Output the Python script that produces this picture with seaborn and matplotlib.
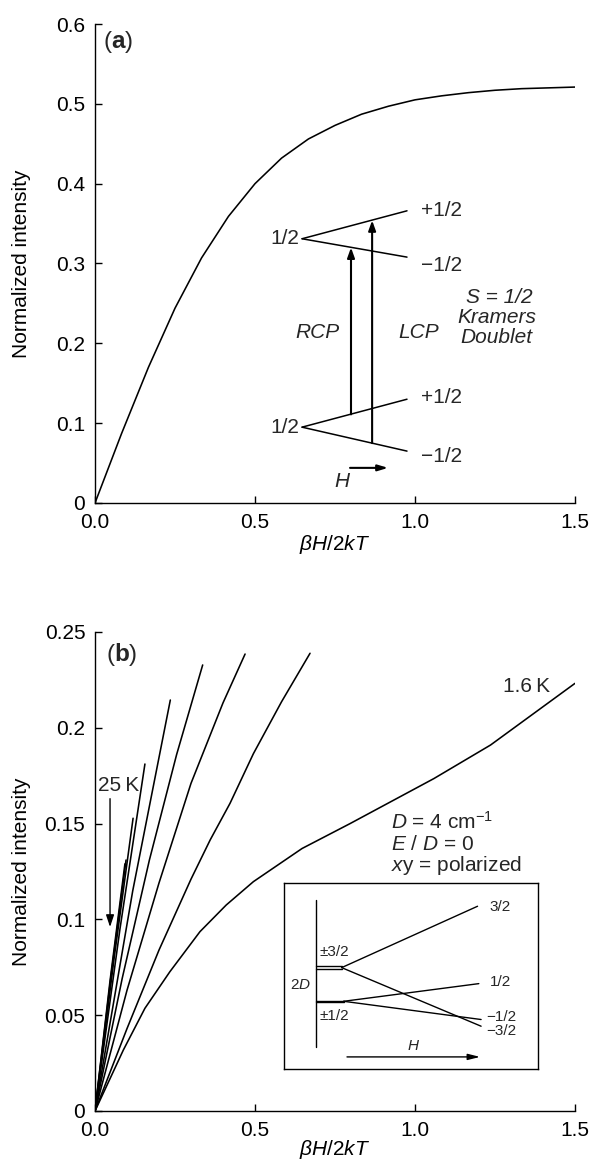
import numpy as np
import pandas as pd
import matplotlib
matplotlib.use("Agg")
import matplotlib.pyplot as plt
import seaborn as sns

# ---------------- data ----------------
# panel (a): S = 1/2 Kramers doublet saturation curve
a_x = [0.0, 0.083, 0.167, 0.25, 0.333, 0.417, 0.5, 0.583, 0.667, 0.75, 0.833,
       0.917, 1.0, 1.083, 1.167, 1.25, 1.333, 1.417, 1.5]
a_y = [0.0, 0.087, 0.170, 0.244, 0.307, 0.359, 0.400, 0.432, 0.456, 0.473, 0.487,
       0.497, 0.505, 0.510, 0.514, 0.517, 0.519, 0.520, 0.521]

# panel (b): family of curves (1.6 K ... 25 K)
b_names = ["1.6 K", "T2", "T3", "T4", "T5", "T6", "T7", "T8", "25 K"]
b_x = [
    [0.0, 0.0885, 0.156, 0.234, 0.328, 0.41, 0.495, 0.647, 0.797, 1.059, 1.236, 1.5],
    [0.0, 0.1, 0.2, 0.3, 0.36, 0.422, 0.495, 0.583, 0.672],
    [0.0, 0.1, 0.2, 0.3, 0.4, 0.469],
    [0.0, 0.085, 0.17, 0.255, 0.3365],
    [0.0, 0.118, 0.2354],
    [0.0, 0.078, 0.156],
    [0.0, 0.06, 0.119],
    [0.0, 0.049, 0.097],
    [0.0, 0.047, 0.0935],
]
b_y = [
    [0.0, 0.0318, 0.0536, 0.0727, 0.0936, 0.1075, 0.1197, 0.137, 0.150, 0.1735, 0.191, 0.2232],
    [0.0, 0.043, 0.084, 0.121, 0.1415, 0.1606, 0.1865, 0.2136, 0.2389],
    [0.0, 0.063, 0.119, 0.171, 0.213, 0.2385],
    [0.0, 0.0692, 0.131, 0.186, 0.2328],
    [0.0, 0.115, 0.2145],
    [0.0, 0.095, 0.1811],
    [0.0, 0.080, 0.1528],
    [0.0, 0.069, 0.131],
    [0.0, 0.068, 0.129],
]

a_yticks = [0, 0.1, 0.2, 0.3, 0.4, 0.5, 0.6]
a_yticklabels = ["0", "0.1", "0.2", "0.3", "0.4", "0.5", "0.6"]
b_yticks = [0, 0.05, 0.1, 0.15, 0.2, 0.25]
b_yticklabels = ["0", "0.05", "0.1", "0.15", "0.2", "0.25"]
xticks = [0.0, 0.5, 1.0, 1.5]
xticklabels = ["0.0", "0.5", "1.0", "1.5"]

# ---------------- style ----------------
sns.set_theme(style="ticks")
plt.rcParams["font.family"] = ["Liberation Sans", "DejaVu Sans"]
plt.rcParams["mathtext.fontset"] = "custom"
plt.rcParams["mathtext.rm"] = "Liberation Sans"
plt.rcParams["mathtext.it"] = "Liberation Sans:italic"
plt.rcParams["mathtext.bf"] = "Liberation Sans:bold"
plt.rcParams["axes.unicode_minus"] = True

FS = 15
W, H = 590, 1161
fig = plt.figure(figsize=(W / 100, H / 100), dpi=100)

def px_axes(l, r, t, b):
    return [l / W, 1 - b / H, (r - l) / W, (b - t) / H]

ax_a = fig.add_axes(px_axes(95, 575, 24, 503))
ax_b = fig.add_axes(px_axes(95, 575, 632, 1111))

LW = 1.15
K = "black"

# panel (a) curve
df_a = pd.DataFrame({"x": a_x, "y": a_y})
sns.lineplot(data=df_a, x="x", y="y", ax=ax_a, color=K, lw=LW, sort=False,
             estimator=None)

# panel (b) curves
rows = []
for name, xs, ys in zip(b_names, b_x, b_y):
    for i, (xx, yy) in enumerate(zip(xs, ys)):
        rows.append({"curve": name, "x": xx, "y": yy, "i": i})
df_b = pd.DataFrame(rows)
sns.lineplot(data=df_b, x="x", y="y", hue="curve", palette=[K] * len(b_names),
             ax=ax_b, lw=LW, sort=False, estimator=None, legend=False)

for ax, yt, ytl, ymax in [(ax_a, a_yticks, a_yticklabels, 0.6),
                          (ax_b, b_yticks, b_yticklabels, 0.25)]:
    ax.set_xlim(0, 1.5)
    ax.set_ylim(0, ymax)
    ax.set_xticks(xticks)
    ax.set_xticklabels(xticklabels)
    ax.set_yticks(yt)
    ax.set_yticklabels(ytl)
    ax.tick_params(direction="in", length=5, width=1, labelsize=FS, colors=K,
                   pad=7)
    for s in ["top", "right"]:
        ax.spines[s].set_visible(False)
    for s in ["left", "bottom"]:
        ax.spines[s].set_color(K)
        ax.spines[s].set_linewidth(1)
    ax.set_facecolor("white")
    ax.set_ylabel("Normalized intensity", fontsize=FS, color=K)
    ax.set_xlabel(r"$\beta H/2kT$", fontsize=FS, color=K)
    ax.yaxis.set_label_coords(-0.133, 0.5)

ax_a.xaxis.set_label_coords(0.5, -0.062)
ax_b.xaxis.set_label_coords(0.5, -0.056)

# panel labels
ax_a.text(0.026, 0.577, r"($\mathbf{a}$)", fontsize=17.5, va="center", ha="left")
ax_b.text(0.034, 0.2385, r"($\mathbf{b}$)", fontsize=17.5, va="center", ha="left")

# ---------- panel (a) energy level diagram ----------
lvl = dict(color=K, lw=1.1)
for vy, up_end, dn_end in [(0.331, 0.366, 0.308), (0.095, 0.130, 0.065)]:
    ax_a.plot([0.647, 0.975], [vy, up_end], **lvl)
    ax_a.plot([0.647, 0.975], [vy, dn_end], **lvl)
    ax_a.text(0.638, vy, "1/2", fontsize=FS, ha="right", va="center")
ax_a.text(1.02, 0.366, "+1/2", fontsize=FS, ha="left", va="center")
ax_a.text(1.02, 0.298, "\u22121/2", fontsize=FS, ha="left", va="center")
ax_a.text(1.02, 0.132, "+1/2", fontsize=FS, ha="left", va="center")
ax_a.text(1.02, 0.058, "\u22121/2", fontsize=FS, ha="left", va="center")
arrowprops = dict(arrowstyle="-|>,head_length=0.5,head_width=0.18", color=K,
                  lw=1.5, shrinkA=0, shrinkB=0)
ax_a.annotate("", xy=(0.80, 0.320), xytext=(0.80, 0.111), arrowprops=arrowprops)
ax_a.annotate("", xy=(0.866, 0.354), xytext=(0.866, 0.075), arrowprops=arrowprops)
ax_a.text(0.694, 0.214, "RCP", fontsize=FS, style="italic", ha="center", va="center")
ax_a.text(1.0125, 0.214, "LCP", fontsize=FS, style="italic", ha="center", va="center")
ax_a.text(1.262, 0.258, "S = 1/2", fontsize=FS, style="italic", ha="center", va="center")
ax_a.text(1.255, 0.232, "Kramers", fontsize=FS, style="italic", ha="center", va="center")
ax_a.text(1.255, 0.207, "Doublet", fontsize=FS, style="italic", ha="center", va="center")
ax_a.annotate("", xy=(0.916, 0.044), xytext=(0.797, 0.044),
              arrowprops=dict(arrowstyle="-|>,head_length=0.5,head_width=0.15",
                              color=K, lw=1.5, shrinkA=0, shrinkB=0))
ax_a.text(0.772, 0.027, "H", fontsize=FS, style="italic", ha="center", va="center")

# ---------- panel (b) annotations ----------
ax_b.text(1.35, 0.2215, "1.6\u2009K", fontsize=FS, ha="center", va="center")
ax_b.text(0.075, 0.170, "25\u2009K", fontsize=FS, ha="center", va="center")
ax_b.annotate("", xy=(0.047, 0.096), xytext=(0.047, 0.163),
              arrowprops=dict(arrowstyle="-|>,head_length=0.6,head_width=0.2",
                              color=K, lw=1.0, shrinkA=0, shrinkB=0))
ax_b.text(0.924, 0.151, r"$D$ = 4 cm$^{-1}$", fontsize=FS, ha="left", va="center")
ax_b.text(0.924, 0.139, r"$E$ / $D$ = 0", fontsize=FS, ha="left", va="center")
ax_b.text(0.924, 0.128, r"$x$y = polarized", fontsize=FS, ha="left", va="center")

# inset box with zero-field splitting diagram
ins = fig.add_axes(px_axes(284, 538, 883, 1069))
ins.set_xlim(0, 1)
ins.set_ylim(0, 1)
ins.set_xticks([])
ins.set_yticks([])
for s in ins.spines.values():
    s.set_color(K)
    s.set_linewidth(1)
ins.set_facecolor("white")
il = dict(color=K, lw=1.0)
ins.plot([0.125, 0.125], [0.118, 0.911], **il)
ins.plot([0.125, 0.227], [0.552, 0.552], **il)
ins.plot([0.125, 0.227], [0.538, 0.538], **il)
ins.plot([0.227, 0.762], [0.545, 0.875], **il)
ins.plot([0.227, 0.776], [0.545, 0.230], **il)
ins.plot([0.125, 0.235], [0.367, 0.367], **il)
ins.plot([0.125, 0.235], [0.361, 0.361], **il)
ins.plot([0.235, 0.767], [0.364, 0.459], **il)
ins.plot([0.235, 0.776], [0.364, 0.266], **il)
IF = 11
ins.text(0.81, 0.872, "3/2", fontsize=IF, ha="left", va="center")
ins.text(0.81, 0.468, "1/2", fontsize=IF, ha="left", va="center")
ins.text(0.796, 0.28, "\u22121/2", fontsize=IF, ha="left", va="center")
ins.text(0.796, 0.203, "\u22123/2", fontsize=IF, ha="left", va="center")
ins.text(0.138, 0.629, "\u00b13/2", fontsize=IF, ha="left", va="center")
ins.text(0.138, 0.285, "\u00b11/2", fontsize=IF, ha="left", va="center")
ins.text(0.064, 0.45, r"2$D$", fontsize=IF, ha="center", va="center")
ins.annotate("", xy=(0.772, 0.065), xytext=(0.248, 0.065),
             arrowprops=dict(arrowstyle="-|>,head_length=0.6,head_width=0.15",
                             color=K, lw=1.0, shrinkA=0, shrinkB=0))
ins.text(0.509, 0.122, "H", fontsize=IF, style="italic", ha="center", va="center")

fig.patch.set_facecolor("white")
fig.savefig("out.png", dpi=100, facecolor="white")
